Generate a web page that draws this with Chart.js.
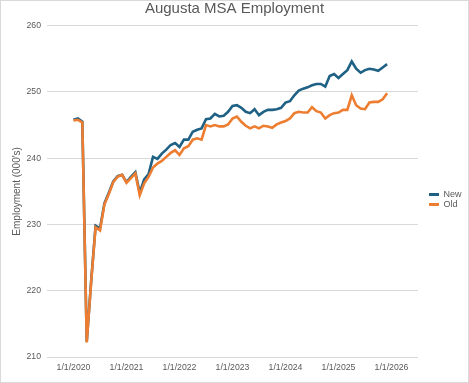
<!DOCTYPE html>
<html>
<head>
<meta charset="utf-8">
<script src="https://cdn.jsdelivr.net/npm/chart.js@4/dist/chart.umd.min.js"></script>
<style>
html,body{margin:0;padding:0;background:#fff;}
#wrap{width:469px;height:383px;box-sizing:border-box;border:1px solid #d9d9d9;background:#fff;}
canvas{display:block;}
</style>
</head>
<body>
<div id="wrap"><canvas id="c" width="467" height="381" style="width:467px;height:381px"></canvas></div>
<script>
// ---- data ----
const years = [2020, 2021, 2022, 2023, 2024, 2025];
const months = [];
years.forEach(y => { for (let m = 1; m <= 12; m++) months.push(m + '/1/' + y); });

const newSeries = [
  245.8, 246.0, 245.5, 212.3, 221.5, 229.8, 229.4, 233.2, 234.8, 236.5, 237.3, 237.5,
  236.4, 237.2, 237.9, 234.8, 236.8, 237.6, 240.2, 239.9, 240.7, 241.3, 242.0, 242.3,
  241.7, 242.8, 242.8, 244.0, 244.3, 244.5, 245.9, 246.0, 246.7, 246.3, 246.4, 247.0,
  247.9, 248.0, 247.6, 247.0, 246.8, 247.4, 246.5, 247.0, 247.3, 247.3, 247.4, 247.6,
  248.4, 248.6, 249.5, 250.2, 250.5, 250.7, 251.0, 251.2, 251.2, 250.8, 252.4, 252.7,
  252.1, 252.7, 253.3, 254.6, 253.5, 252.9, 253.3, 253.5, 253.4, 253.2, 253.7, 254.2
];
const oldSeries = [
  245.7, 245.8, 245.4, 212.2, 221.3, 229.6, 229.1, 233.0, 234.6, 236.4, 237.2, 237.5,
  236.3, 237.0, 237.7, 234.4, 236.2, 237.2, 238.6, 239.2, 239.6, 240.2, 240.8, 241.2,
  240.5, 241.5, 241.8, 242.8, 243.0, 242.8, 245.0, 244.8, 245.0, 244.8, 244.8, 245.1,
  246.0, 246.3, 245.5, 244.9, 244.5, 244.8, 244.5, 244.9, 244.8, 244.6, 245.1, 245.4,
  245.6, 246.0, 246.8, 247.0, 246.9, 246.9, 247.7, 247.1, 246.9, 246.0, 246.5, 246.8,
  246.9, 247.3, 247.3, 249.5, 248.0, 247.5, 247.4, 248.4, 248.5, 248.5, 248.9, 249.8
];
const xTickLabels = ['1/1/2020', '1/1/2021', '1/1/2022', '1/1/2023', '1/1/2024', '1/1/2025', '1/1/2026'];
const yTicks = [210, 220, 230, 240, 250, 260];

// month index relative to Jan 2020
const monthIndex = lbl => { const p = lbl.split('/'); return (parseInt(p[2]) - 2020) * 12 + parseInt(p[0]) - 1; };
const toPoints = arr => arr.map((v, i) => ({ x: monthIndex(months[i]), y: v }));
const tickMap = {};
xTickLabels.forEach(l => { tickMap[monthIndex(l)] = l; });

const FONT = "'Liberation Sans', Arial, sans-serif";
const TXT = '#595959';
const GRID = '#d9d9d9';

const legendTweak = {
  id: 'legendTweak',
  beforeLayout(chart) {
    const lg = chart.legend;
    if (lg && !lg._patched) {
      const f = lg.fit;
      lg.fit = function () { f.call(this); this.width = 50; };
      lg._patched = true;
    }
  },
  afterLayout(chart) {
    const lg = chart.legend;
    if (lg) { lg.left += 10; lg.right += 10; lg.top += 8; lg.bottom += 8; }
  }
};

new Chart(document.getElementById('c'), {
  type: 'line',
  data: {
    datasets: [
      { label: 'New', data: toPoints(newSeries), borderColor: '#1f6184', backgroundColor: '#1f6184',
        borderWidth: 2.6, pointRadius: 0, tension: 0, order: 1 },
      { label: 'Old', data: toPoints(oldSeries), borderColor: '#ed7d31', backgroundColor: '#ed7d31',
        borderWidth: 2.6, pointRadius: 0, tension: 0, order: 0 }
    ]
  },
  options: {
    responsive: false,
    animation: false,
    devicePixelRatio: 1,
    layout: { padding: 0 },
    plugins: {
      title: {
        display: true, text: 'Augusta MSA Employment', color: TXT,
        font: { family: FONT, size: 15, weight: 'normal', lineHeight: 1 },
        padding: { top: 0, bottom: 9.7 }
      },
      legend: {
        position: 'right',
        labels: {
          color: TXT, boxWidth: 10, boxHeight: 3, padding: 1,
          font: { family: FONT, size: 9 },
          sort: (a, b) => a.datasetIndex - b.datasetIndex,
          generateLabels: chart => Chart.defaults.plugins.legend.labels.generateLabels(chart)
            .map(l => Object.assign(l, { lineWidth: 0 }))
        }
      },
      tooltip: { enabled: false }
    },
    scales: {
      x: {
        type: 'linear', min: -6, max: 78,
        grid: { display: false, drawTicks: false },
        border: { display: false },
        afterFit: s => { s.height = 25; },
        afterBuildTicks: s => { s.ticks = Object.keys(tickMap).map(k => ({ value: +k })); },
        ticks: {
          autoSkip: false, maxRotation: 0, padding: 5, color: TXT,
          font: { family: FONT, size: 8.7 },
          callback: v => tickMap[v] || ''
        }
      },
      y: {
        min: 210, max: 260,
        afterFit: s => { s.width = 46; },
        afterBuildTicks: s => { s.ticks = yTicks.map(v => ({ value: v })); },
        grid: { color: GRID, lineWidth: 1, drawTicks: false },
        border: { display: false },
        ticks: { padding: 6, color: TXT, font: { family: FONT, size: 8.7 } },
        title: {
          display: true, text: "Employment (000's)", color: TXT,
          font: { family: FONT, size: 10 }, padding: { top: 10, bottom: 0 }
        }
      }
    }
  },
  plugins: [legendTweak]
});
</script>
</body>
</html>
